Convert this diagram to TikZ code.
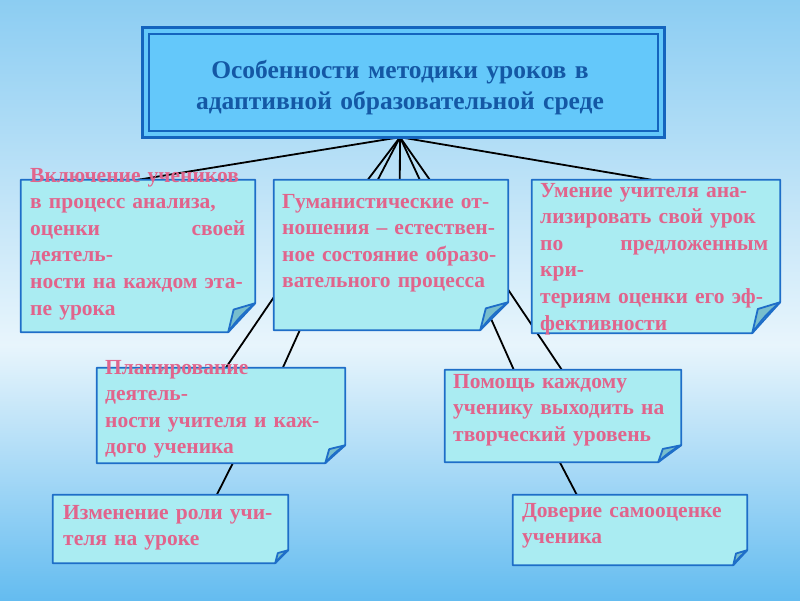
\documentclass[tikz,border=0pt]{standalone}
\usepackage{fontspec}
\setmainfont{Liberation Serif}
\usetikzlibrary{calc}
\definecolor{bgtop}{RGB}{140,205,242}
\definecolor{bgmid}{RGB}{232,245,252}
\definecolor{bgbot}{RGB}{100,188,240}
\definecolor{boxfill}{RGB}{170,236,242}
\definecolor{boxline}{RGB}{30,110,200}
\definecolor{flapfill}{RGB}{120,190,205}
\definecolor{pinktext}{RGB}{225,100,140}
\definecolor{titleblue}{RGB}{20,88,165}
\definecolor{topfill}{RGB}{100,200,250}
\definecolor{topline}{RGB}{20,100,190}
\newcommand\paperbox[3]{%
  \path[boxbody] (#1.north west) -- (#1.north east) -- ($(#1.south east)+(0,-#3)$)
    -- ($(#1.south east)+(-#2,0)$) -- (#1.south west) -- cycle;
  \path[flap] ($(#1.south east)+(0,-#3)$) -- ($(#1.south east)+(-0.8*#2,-0.78*#3)$)
    -- ($(#1.south east)+(-#2,0)$) to[bend left=8] cycle;}
\begin{document}
\begin{tikzpicture}[x=1pt,y=-1pt,
  frame/.style={draw=none, inner sep=0pt},
  boxbody/.style={draw=boxline, line width=1.8pt, fill=boxfill, line join=round},
  flap/.style={draw=boxline, line width=1.8pt, fill=flapfill, line join=round},
  link/.style={draw=black, line width=1.8pt},
  boxtext/.style={anchor=base west, inner sep=0pt, align=left, text=pinktext,
    font=\fontsize{21.5}{26.6}\selectfont\bfseries}]
\useasboundingbox (0,0) rectangle (800,600);
\fill[top color=bgtop, bottom color=bgmid] (0,0) rectangle (800,345);
\fill[top color=bgmid, bottom color=bgbot] (0,345) rectangle (800,600);

% box frames (invisible nodes giving the geometry)
\node[frame, minimum width=521pt, minimum height=109pt] (top) at (403.5,82.5) {};
\node[frame, minimum width=234pt, minimum height=152pt] (b1) at (138,256) {};
\node[frame, minimum width=234pt, minimum height=150pt] (b2) at (391,255) {};
\node[frame, minimum width=248pt, minimum height=153pt] (b3) at (656,256.5) {};
\node[frame, minimum width=248pt, minimum height=95pt] (b4) at (221,415.5) {};
\node[frame, minimum width=236pt, minimum height=92pt] (b5) at (563,416) {};
\node[frame, minimum width=235pt, minimum height=68pt] (b6) at (170.5,529) {};
\node[frame, minimum width=234pt, minimum height=70pt] (b7) at (630,530) {};
\coordinate (hub) at ($(top.south)+(-3.5,0)$);

% connectors
\draw[link] (hub) -- ($(b1.north west)+(117,0)$);
\draw[link] (hub) -- ($(b2.north west)+(94,0)$);
\draw[link] (hub) -- ($(b2.north west)+(104,0)$);
\draw[link] (hub) -- ($(b2.north west)+(126,0)$);
\draw[link] (hub) -- ($(b2.north west)+(146,0)$);
\draw[link] (hub) -- ($(b2.north west)+(156,0)$);
\draw[link] (hub) -- ($(b3.north west)+(120,0)$);
\draw[link] ($(b2.north west)+(1,116)$) -- ($(b4.north west)+(129,0)$);
\draw[link] ($(b2.south west)+(26,0)$) -- ($(b4.north west)+(186,0)$);
\draw[link] ($(b2.north east)+(0,110)$) -- ($(b5.north west)+(117,0)$);
\draw[link] ($(b2.south east)+(-17,-11)$) -- ($(b5.north west)+(69,0)$);
\draw[link] ($(b4.south west)+(136,0)$) -- ($(b6.north west)+(164,0)$);
\draw[link] ($(b5.south west)+(115,0)$) -- ($(b7.north west)+(64,0)$);

% top box
\draw[topline, line width=3pt, fill=topfill] (top.north west) rectangle (top.south east);
\draw[topline, line width=2pt] ($(top.north west)+(6,6)$) rectangle ($(top.south east)+(-6,-6)$);
\node[anchor=base, inner sep=0pt, align=center, text width=510pt, text=titleblue,
  font=\fontsize{25.5}{31}\selectfont\bfseries] (title) at (400,78)
  {Особенности методики уроков в\\адаптивной образовательной среде};

% paper boxes
\paperbox{b1}{27}{29}
\paperbox{b2}{28}{28}
\paperbox{b3}{28}{31}
\paperbox{b4}{20}{18}
\paperbox{b5}{23}{17}
\paperbox{b6}{13}{13}
\paperbox{b7}{14}{15}

% texts
\node[boxtext, text width=215pt] (t1) at (30,182)
  {Включение учеников\\в процесс анализа,\\\makebox[\linewidth]{оценки\hfill своей}\\деятель-\\ности на каждом эта-\\пе урока};
\node[boxtext, text width=215pt] (t2) at (282,208)
  {Гуманистические от-\\ношения – естествен-\\ное состояние образо-\\вательного процесса};
\node[boxtext, text width=228pt] (t3) at (540,197)
  {Умение учителя ана-\\лизировать свой урок\\\makebox[\linewidth]{по\hfill предложенным}\\кри-\\териям оценки его эф-\\фективности};
\node[boxtext, text width=235pt] (t4) at (105,374)
  {Планирование\\деятель-\\ности учителя и каж-\\дого ученика};
\node[boxtext, text width=225pt] (t5) at (453,388)
  {Помощь каждому\\ученику выходить на\\творческий уровень};
\node[boxtext, text width=225pt] (t6) at (63,519)
  {Изменение роли учи-\\теля на уроке};
\node[boxtext, text width=222pt] (t7) at (522,517)
  {Доверие самооценке\\ученика};
\end{tikzpicture}
\end{document}
